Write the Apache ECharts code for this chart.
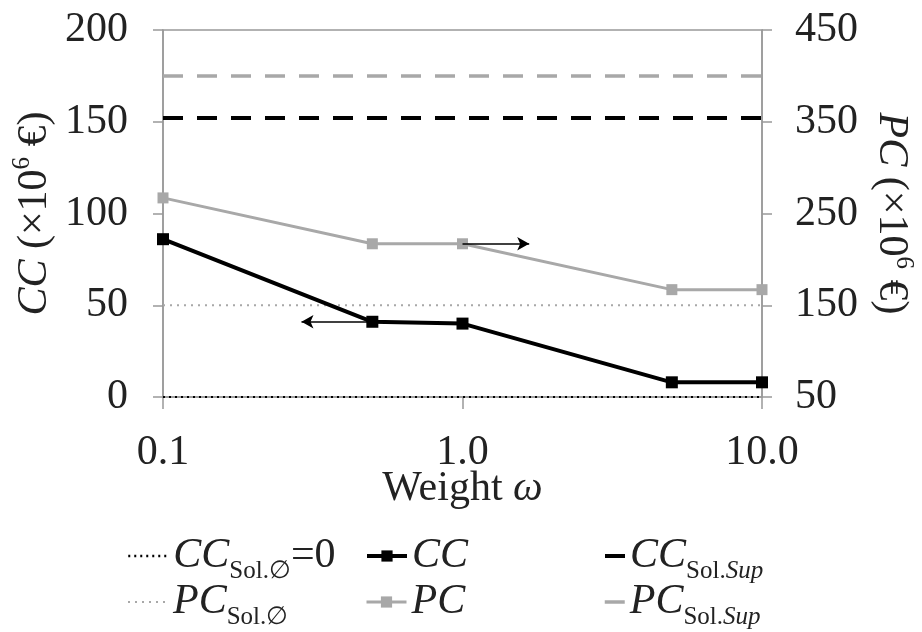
<!DOCTYPE html>
<html>
<head>
<meta charset="utf-8">
<script src="https://cdn.jsdelivr.net/npm/echarts@6/dist/echarts.min.js"></script>
<style>
  html, body { margin: 0; padding: 0; background: #fff; }
  #chart { width: 922px; height: 632px; }
</style>
</head>
<body>
<div id="chart"></div>
<script>
// data
const weights = [0.1, 0.5, 1.0, 5.0, 10.0]
const ccValues = [86, 41, 40, 8, 8]
const pcValues = [267, 217, 217, 167, 167]
const xRange = [0.1, 10]
const ccSolNull = 0
const pcSolNull = 150
const ccSolSup = 152
const pcSolSup = 400
// arrows: start weight, end weight
const ccArrow = [0.5, 0.29]
const pcArrow = [1.0, 1.67]

const FONT = 'Liberation Serif'
const TXT = '#222'
const GRAY = '#a8a8a8'
const AXIS = '#999'

const flat = v => xRange.map(x => [x, v])

const chart = echarts.init(document.getElementById('chart'), null, { renderer: 'canvas' })

const rich = {
  i: { fontFamily: FONT, fontStyle: 'italic', fontSize: 42, color: TXT },
  n: { fontFamily: FONT, fontSize: 42, color: TXT },
  s: { fontFamily: FONT, fontSize: 25, color: TXT, padding: [30, 0, 0, 0] },
  si: { fontFamily: FONT, fontStyle: 'italic', fontSize: 25, color: TXT, padding: [30, 0, 0, 0] },
  sup: { fontFamily: FONT, fontSize: 25, color: TXT, padding: [0, 0, 24, 0] }
}

const legendText = {
  'CC Sol.∅=0': '{i|CC}{s|Sol.∅}{n|=0}',
  'PC Sol.∅': '{i|PC}{s|Sol.∅}',
  'CC': '{i|CC}',
  'PC': '{i|PC}',
  'CC Sol.Sup': '{i|CC}{s|Sol.}{si|Sup}',
  'PC Sol.Sup': '{i|PC}{s|Sol.}{si|Sup}'
}

const mkLegend = (name, left, top, w, lw, hideSymbol) => ({
  data: [name],
  left: left,
  top: top,
  padding: 0,
  itemWidth: w,
  itemHeight: 14,
  selectedMode: false,
  itemStyle: hideSymbol ? { opacity: 0 } : {},
  lineStyle: { width: lw },
  formatter: n => legendText[n],
  textStyle: { fontFamily: FONT, fontSize: 42, color: TXT, rich: rich }
})

const option = {
  animation: false,
  backgroundColor: '#fff',
  grid: {
    left: 163,
    right: 160,
    top: 30,
    bottom: 235,
    containLabel: false,
    outerBoundsMode: 'none',
    show: true,
    borderColor: AXIS,
    borderWidth: 1.5,
    backgroundColor: 'transparent'
  },
  legend: [
    mkLegend('CC Sol.∅=0', 127, 535, 40, 2.5, true),
    mkLegend('PC Sol.∅', 127, 581, 40, 2, true),
    mkLegend('CC', 365, 535, 40, 4, false),
    mkLegend('PC', 365, 581, 40, 3, false),
    mkLegend('CC Sol.Sup', 603, 535, 20, 4, true),
    mkLegend('PC Sol.Sup', 603, 581, 20, 3.5, true)
  ],
  xAxis: {
    type: 'log',
    logBase: 10,
    min: xRange[0],
    max: xRange[1],
    name: '{n|Weight }{i|ω}',
    nameLocation: 'middle',
    nameGap: 71,
    nameMoveOverlap: false,
    nameTextStyle: { fontFamily: FONT, fontSize: 42, color: TXT, rich: rich },
    axisLine: { show: true, lineStyle: { color: AXIS, width: 1.5 } },
    axisTick: { show: true, length: 12, lineStyle: { color: AXIS, width: 1.5 } },
    minorTick: { show: false },
    splitLine: { show: false },
    axisLabel: {
      margin: 35,
      fontFamily: FONT,
      fontSize: 42,
      color: TXT,
      formatter: v => Number(v).toFixed(1)
    }
  },
  yAxis: [
    {
      type: 'value',
      position: 'left',
      min: 0,
      max: 200,
      interval: 50,
      name: '{i|CC}{n| (×10}{sup|6}{n| €)}',
      nameLocation: 'middle',
      nameGap: 104,
      nameMoveOverlap: false,
      nameRotate: 90,
      nameTextStyle: { fontFamily: FONT, fontSize: 42, color: TXT, rich: rich },
      axisLine: { show: true, lineStyle: { color: AXIS, width: 1.5 } },
      axisTick: { show: true, length: 10, lineStyle: { color: AXIS, width: 1.5 } },
      splitLine: { show: false },
      axisLabel: { margin: 35, fontFamily: FONT, fontSize: 42, color: TXT }
    },
    {
      type: 'value',
      position: 'right',
      min: 50,
      max: 450,
      interval: 100,
      name: '{i|PC}{n| (×10}{sup|6}{n| €)}',
      nameLocation: 'middle',
      nameGap: 105,
      nameMoveOverlap: false,
      nameRotate: -90,
      nameTextStyle: { fontFamily: FONT, fontSize: 42, color: TXT, rich: rich },
      axisLine: { show: true, lineStyle: { color: AXIS, width: 1.5 } },
      axisTick: { show: true, length: 10, lineStyle: { color: AXIS, width: 1.5 } },
      splitLine: { show: false },
      axisLabel: { margin: 33, fontFamily: FONT, fontSize: 42, color: TXT }
    }
  ],
  series: [
    {
      name: 'CC Sol.∅=0',
      type: 'line',
      yAxisIndex: 0,
      symbol: 'none',
      silent: true,
      lineStyle: { color: '#000', width: 2, type: [2, 4] },
      itemStyle: { color: '#000' },
      data: flat(ccSolNull)
    },
    {
      name: 'PC Sol.∅',
      type: 'line',
      yAxisIndex: 1,
      symbol: 'none',
      silent: true,
      lineStyle: { color: GRAY, width: 2, type: [2, 5] },
      itemStyle: { color: GRAY },
      data: flat(pcSolNull)
    },
    {
      name: 'CC Sol.Sup',
      type: 'line',
      yAxisIndex: 0,
      symbol: 'none',
      silent: true,
      lineStyle: { color: '#000', width: 4, type: [20, 14] },
      itemStyle: { color: '#000' },
      data: flat(ccSolSup)
    },
    {
      name: 'PC Sol.Sup',
      type: 'line',
      yAxisIndex: 1,
      symbol: 'none',
      silent: true,
      lineStyle: { color: GRAY, width: 3.5, type: [20, 14] },
      itemStyle: { color: GRAY },
      data: flat(pcSolSup)
    },
    {
      name: 'PC',
      type: 'line',
      yAxisIndex: 1,
      symbol: 'rect',
      symbolSize: 11,
      lineStyle: { color: GRAY, width: 3 },
      itemStyle: { color: GRAY },
      data: weights.map((w, k) => [w, pcValues[k]]),
      markLine: {
        silent: true,
        symbol: ['none', 'arrow'],
        symbolSize: [10, 12],
        label: { show: false },
        lineStyle: { color: '#000', width: 1.5, type: 'solid' },
        data: [[{ coord: [pcArrow[0], pcValues[2]] }, { coord: [pcArrow[1], pcValues[2]] }]]
      }
    },
    {
      name: 'CC',
      type: 'line',
      yAxisIndex: 0,
      symbol: 'rect',
      symbolSize: 12,
      lineStyle: { color: '#000', width: 4 },
      itemStyle: { color: '#000' },
      data: weights.map((w, k) => [w, ccValues[k]]),
      markLine: {
        silent: true,
        symbol: ['none', 'arrow'],
        symbolSize: [10, 12],
        label: { show: false },
        lineStyle: { color: '#000', width: 1.5, type: 'solid' },
        data: [[{ coord: [ccArrow[0], ccValues[1]] }, { coord: [ccArrow[1], ccValues[1]] }]]
      }
    }
  ]
}

chart.setOption(option)
</script>
</body>
</html>
